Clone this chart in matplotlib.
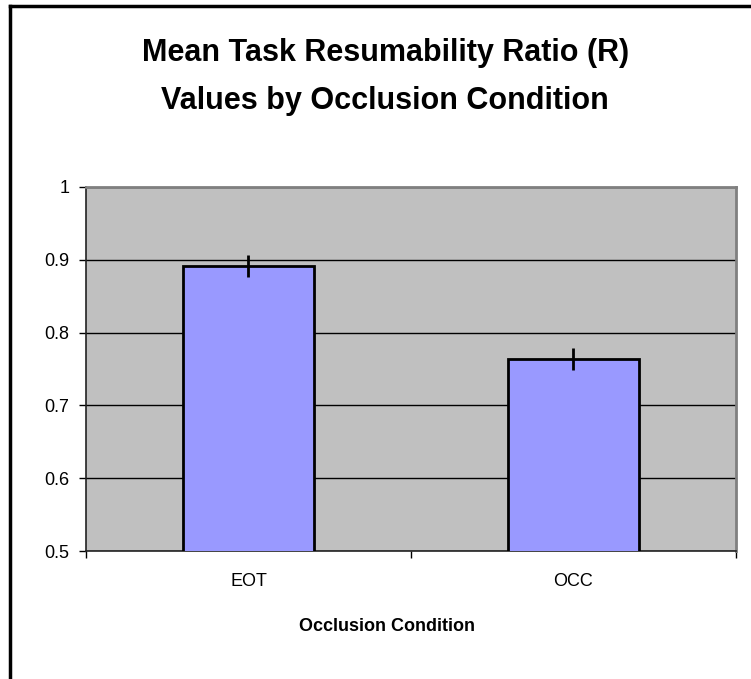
import matplotlib
matplotlib.use("Agg")
import matplotlib.pyplot as plt
from matplotlib.lines import Line2D

plt.rcParams['font.family'] = ['Liberation Sans', 'DejaVu Sans']

# data
conditions = ["EOT", "OCC"]
mean_r = [0.891, 0.764]
err_r = [0.015, 0.015]
yticks = [0.5, 0.6, 0.7, 0.8, 0.9, 1.0]
ytick_labels = ["0.5", "0.6", "0.7", "0.8", "0.9", "1"]

fig = plt.figure(figsize=(7.51, 6.79), dpi=100)
ax = fig.add_axes([0.1145, 0.1885, 0.8655, 0.5361])

x = range(len(conditions))
ax.set_facecolor('#C0C0C0')
ax.bar(x, mean_r, width=0.404, color='#9999FF', edgecolor='black', linewidth=2, zorder=3)
ax.errorbar(x, mean_r, yerr=err_r, fmt='none', ecolor='black', elinewidth=2, capsize=0, zorder=4)

ax.set_xlim(-0.5, 1.5)
ax.set_ylim(0.5, 1.0)
ax.set_yticks(yticks)
ax.set_yticklabels(ytick_labels)
ax.yaxis.grid(True, color='black', linewidth=1)
ax.set_axisbelow(True)

# category ticks sit between bars, labels at bar centres
ax.set_xticks([-0.5, 0.5, 1.5])
ax.set_xticklabels([])
ax.set_xticks(list(x), minor=True)
ax.set_xticklabels(conditions, minor=True)
ax.tick_params(axis='x', which='major', direction='out', length=5, width=1, color='black')
ax.tick_params(axis='x', which='minor', length=0, pad=16, labelsize=13)
ax.tick_params(axis='y', direction='out', length=5, width=1, pad=7, labelsize=13, color='black')

for s in ['left', 'bottom']:
    ax.spines[s].set_color('#222222')
    ax.spines[s].set_linewidth(1.2)
for s in ['top', 'right']:
    ax.spines[s].set_color('#808080')
    ax.spines[s].set_linewidth(2)

fig.text(0.513, 0.922, "Mean Task Resumability Ratio (R)", ha='center', va='center',
         fontsize=22, fontweight='bold')
fig.text(0.513, 0.851, "Values by Occlusion Condition", ha='center', va='center',
         fontsize=22, fontweight='bold')
fig.text(0.515, 0.078, "Occlusion Condition", ha='center', va='center',
         fontsize=13, fontweight='bold')

# chart area border (only left and top show in the crop)
fig.add_artist(Line2D([0.0127, 0.0127], [0.0, 0.9915], transform=fig.transFigure,
                      color='black', linewidth=2.5))
fig.add_artist(Line2D([0.0127, 1.0], [0.9915, 0.9915], transform=fig.transFigure,
                      color='black', linewidth=2.5))

plt.savefig('out.png', dpi=100)
